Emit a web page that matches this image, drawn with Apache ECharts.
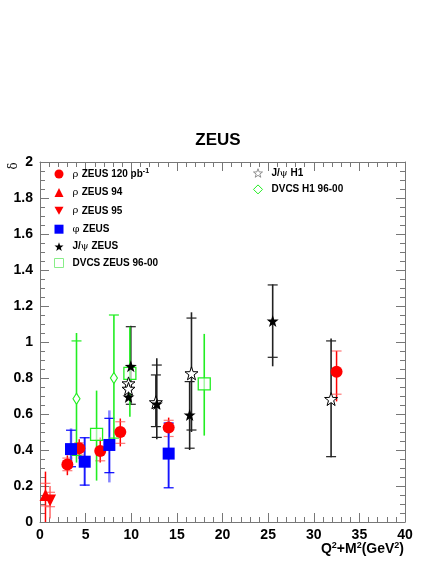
<!DOCTYPE html>
<html><head><meta charset="utf-8">
<script src="https://cdn.jsdelivr.net/npm/echarts@6/dist/echarts.min.js"></script>
<style>html,body{margin:0;padding:0;background:#fff}#c{width:436px;height:564px}</style>
</head><body><div id="c"></div>
<script>
// ---- data (x = Q^2+M^2 [GeV^2], y = delta) ----
const rho120 = [[3.0,0.32],[4.3,0.41],[6.6,0.395],[8.8,0.50],[14.1,0.525],[32.5,0.835]];
const rho120Err = [[0.26,0.37,0.285,0.355],[0.35,0.46,0.372,0.44],[0.33,0.47,0.34,0.455],[0.42,0.575,0.437,0.557],[0.465,0.58,0.475,0.565],[0.67,0.95,0.71,0.95]];
const rho94 = [[0.6,0.15]];
const rho94Err = [[-0.05,0.28,0.09,0.215]];
const rho95 = [[1.1,0.12]];
const rho95Err = [[0.02,0.2,0.085,0.165]];
const phiZ = [[3.4,0.405],[4.9,0.335],[7.6,0.428],[14.1,0.38]];
const phiZErr = [[0.30,0.52,0.307,0.51],[0.2,0.47,0.205,0.468],[0.22,0.62,0.274,0.576],[0.19,0.56,0.19,0.55]];
const jpsiZ = [[9.95,0.865],[9.7,0.695],[12.8,0.656],[16.4,0.595],[25.5,1.117]];
const jpsiZErr = [[0.654,1.09,0.654,1.085],null,[0.46,0.91,0.47,0.872],[0.40,0.78,0.41,0.78],[0.865,1.32,0.915,1.317]];
const jpsiH1 = [[9.7,0.77],[9.7,0.74],[12.7,0.665],[16.6,0.826],[31.9,0.683]];
const jpsiH1Err = [null,null,[0.53,0.817,0.53,0.817],[0.50,1.165,0.511,1.133],[0.36,1.02,0.363,1.006]];
const dvcsZ = [[6.2,0.487],[9.85,0.826],[18.0,0.767]];
const dvcsZErr = [[0.23,0.73,null,null],[0.585,1.085,null,null],[0.48,1.045,null,null]];
const dvcsH1 = [[4.0,0.685],[8.1,0.80]];
const dvcsH1Err = [[0.33,1.05,0.37,1.006],[0.46,1.15,0.466,1.15]];

const legendLeft = ['rho120','rho94','rho95','phi','jpsiZ','dvcsZ'];
const legendRight = ['jpsiH1','dvcsH1'];
const legendText = {
  rho120: '{g|\u03c1} {b|ZEUS 120 pb}{s|-1}',
  rho94: '{g|\u03c1} {b|ZEUS 94}',
  rho95: '{g|\u03c1} {b|ZEUS 95}',
  phi: '{g|\u03c6} {b|ZEUS}',
  jpsiZ: '{b|J/}{g|\u03c8}{b| ZEUS}',
  dvcsZ: '{b|DVCS ZEUS 96-00}',
  jpsiH1: '{b|J/}{g|\u03c8}{b| H1}',
  dvcsH1: '{b|DVCS H1 96-00}'
};

const STAR = 'path://M0,-1 L0.235,-0.324 L0.951,-0.309 L0.380,0.124 L0.588,0.809 L0,0.4 L-0.588,0.809 L-0.380,0.124 L-0.951,-0.309 L-0.235,-0.324 Z';
const TRIDOWN = 'path://M0,0 L10,0 L5,9 Z';
const RED = '#ff0000', BLUE = '#0000ff', GREEN = '#22ee22', BLACK = '#000000';
const FONT = 'Liberation Sans, Arial, Helvetica, sans-serif';

function errSeries(name, pts, errs, st) {
  const data = pts.map((p, i) => {
    const e = errs[i];
    if (!e) return [p[0], NaN, NaN, NaN, NaN];
    return [p[0], e[0], e[1], e[2] == null ? NaN : e[2], e[3] == null ? NaN : e[3]];
  });
  return {
    type: 'custom', name: name, data: data, z: 2, silent: true,
    encode: {x: 0, y: [1, 2]},
    renderItem: function (params, api) {
      const x = api.value(0), lo = api.value(1), hi = api.value(2);
      const clo = api.value(3), chi = api.value(4);
      if (isNaN(lo)) return null;
      const cs = params.coordSys;
      const bottom = cs.y + cs.height;
      const cl = v => Math.max(cs.y, Math.min(bottom, v));
      const a = api.coord([x, lo]), b = api.coord([x, hi]);
      const px = a[0];
      const ch = [{type: 'line', shape: {x1: px, y1: cl(a[1]), x2: px, y2: cl(b[1])},
        style: {stroke: st.line, lineWidth: st.lw, opacity: st.lop}}];
      if (st.inner) {
        const ia = api.coord([x, isNaN(clo) ? lo : clo]), ib = api.coord([x, isNaN(chi) ? hi : chi]);
        ch.push({type: 'line', shape: {x1: px, y1: cl(ia[1]), x2: px, y2: cl(ib[1])},
          style: {stroke: st.inner, lineWidth: 1, opacity: 1}});
      }
      [clo, chi].forEach(v => {
        if (!isNaN(v)) {
          const p = api.coord([x, v]);
          if (p[1] <= bottom && p[1] >= cs.y)
            ch.push({type: 'line', shape: {x1: px - st.cw, y1: p[1], x2: px + st.cw, y2: p[1]},
              style: {stroke: st.cap, lineWidth: 1.2, opacity: st.cop}});
        }
      });
      return {type: 'group', children: ch};
    }
  };
}

const chart = echarts.init(document.getElementById('c'), null, {renderer: 'canvas'});

const axisCommon = {
  min: 0,
  axisLine: {show: true, onZero: false, lineStyle: {color: '#777', width: 1}},
  axisTick: {show: true, inside: true, length: 9, lineStyle: {color: '#777'}},
  minorTick: {show: true, length: 5, lineStyle: {color: '#777'}},
  splitLine: {show: false}
};
const labelStyle = {color: '#000', fontFamily: FONT, fontWeight: 'bold', fontSize: 14};

const richLegend = {
  g: {fontFamily: 'DejaVu Serif, Liberation Serif, serif', fontWeight: 'normal', fontSize: 10, lineHeight: 12, color: '#000'},
  b: {fontFamily: FONT, fontWeight: 'bold', fontSize: 10, lineHeight: 12, color: '#000'},
  s: {fontFamily: FONT, fontWeight: 'bold', fontSize: 7, lineHeight: 7, verticalAlign: 'top', color: '#000'}
};

function legendCfg(names, left, size, styles) {
  return {
    data: names.map(n => Object.assign({name: n}, styles[n] ? {itemStyle: styles[n]} : {})),
    orient: 'vertical', left: left, top: 168, padding: 0,
    itemWidth: size, itemHeight: size, itemGap: 6.4,
    selectedMode: false,
    formatter: n => legendText[n],
    textStyle: {padding: [0, 0, 0, 4], rich: richLegend}
  };
}

chart.setOption({
  backgroundColor: '#fff',
  animation: false,
  title: {text: 'ZEUS', left: 'center', top: 127,
    textStyle: {fontFamily: FONT, fontWeight: 'bold', fontSize: 17, color: '#000'}},
  grid: {left: 40, top: 162, width: 365, height: 360, containLabel: false},
  legend: [
    legendCfg(legendLeft, 54, 9, {dvcsZ: {borderColor: '#88ee88', borderWidth: 1}}),
    legendCfg(legendRight, 253, 9, {jpsiH1: {borderColor: '#777', borderWidth: 0.8}, dvcsH1: {borderWidth: 1}})
  ],
  xAxis: [
    Object.assign({}, axisCommon, {type: 'value', position: 'bottom', max: 40, interval: 5,
      minorTick: Object.assign({}, axisCommon.minorTick, {splitNumber: 5}),
      axisLabel: Object.assign({margin: 6}, labelStyle)}),
    Object.assign({}, axisCommon, {type: 'value', position: 'top', max: 40, interval: 5,
      minorTick: Object.assign({}, axisCommon.minorTick, {splitNumber: 5}),
      axisLabel: {show: false}})
  ],
  yAxis: [
    Object.assign({}, axisCommon, {type: 'value', position: 'left', max: 2, interval: 0.2,
      minorTick: Object.assign({}, axisCommon.minorTick, {splitNumber: 4}),
      axisLabel: Object.assign({margin: 7}, labelStyle)}),
    Object.assign({}, axisCommon, {type: 'value', position: 'right', max: 2, interval: 0.2,
      minorTick: Object.assign({}, axisCommon.minorTick, {splitNumber: 4}),
      axisLabel: {show: false}})
  ],
  graphic: [
    {type: 'text', x: 404, y: 549, style: {
      text: '{b|Q}{s|2}{b|+M}{s|2}{b|(GeV}{s|2}{b|)}', align: 'right', verticalAlign: 'middle',
      rich: {
        b: {fontFamily: FONT, fontWeight: 'bold', fontSize: 14, lineHeight: 16, fill: '#000'},
        s: {fontFamily: FONT, fontWeight: 'bold', fontSize: 9, lineHeight: 9, verticalAlign: 'top', fill: '#000'}
      }}},
    {type: 'text', x: 14, y: 166, rotation: Math.PI / 2, style: {
      text: '\u03b4', align: 'center', verticalAlign: 'middle',
      fontFamily: 'DejaVu Serif, serif', fontSize: 12, fill: '#000'}}
  ],
  series: [
    errSeries('e_rho120', rho120, rho120Err, {line: RED, lw: 1.5, lop: 1, cap: '#ff5555', cop: 0.8, cw: 5}),
    errSeries('e_rho94', rho94, rho94Err, {line: RED, lw: 1.5, lop: 1, cap: '#ff5555', cop: 0.8, cw: 5}),
    errSeries('e_rho95', rho95, rho95Err, {line: '#ff6666', lw: 1.5, lop: 1, cap: '#ff5555', cop: 0.8, cw: 5}),
    errSeries('e_phi', phiZ, phiZErr, {line: '#7777ff', lw: 2.5, lop: 0.9, inner: BLUE, cap: BLUE, cop: 1, cw: 5}),
    errSeries('e_jpsiZ', jpsiZ, jpsiZErr, {line: '#222', lw: 1.6, lop: 1, cap: '#222', cop: 1, cw: 5}),
    errSeries('e_jpsiH1', jpsiH1, jpsiH1Err, {line: '#222', lw: 1.6, lop: 1, cap: '#222', cop: 1, cw: 5}),
    errSeries('e_dvcsZ', dvcsZ, dvcsZErr, {line: GREEN, lw: 1.6, lop: 1, cap: GREEN, cop: 1, cw: 5}),
    errSeries('e_dvcsH1', dvcsH1, dvcsH1Err, {line: GREEN, lw: 1.6, lop: 1, cap: GREEN, cop: 1, cw: 5}),
    {type: 'scatter', name: 'rho120', data: rho120, symbol: 'circle', symbolSize: 12, z: 5,
      itemStyle: {color: RED, opacity: 1}},
    {type: 'scatter', name: 'rho94', data: rho94, symbol: 'triangle', symbolSize: 12, z: 5,
      itemStyle: {color: RED, opacity: 1}},
    {type: 'scatter', name: 'rho95', data: rho95, symbol: TRIDOWN, symbolSize: 12, z: 5,
      itemStyle: {color: RED, opacity: 1}},
    {type: 'scatter', name: 'phi', data: phiZ, symbol: 'rect', symbolSize: 12, z: 5,
      itemStyle: {color: BLUE, opacity: 1}},
    {type: 'scatter', name: 'dvcsZ', data: dvcsZ, symbol: 'rect', symbolSize: 12, z: 5,
      itemStyle: {color: 'rgba(255,255,255,0.6)', borderColor: GREEN, borderWidth: 1.3, opacity: 1}},
    {type: 'scatter', name: 'dvcsH1', data: dvcsH1, symbol: 'diamond', symbolSize: [7, 11], z: 5,
      itemStyle: {color: '#fff', borderColor: GREEN, borderWidth: 1.2, opacity: 1}},
    {type: 'scatter', name: 'jpsiH1', data: jpsiH1, symbol: STAR, symbolSize: 13, z: 6,
      itemStyle: {color: '#fff', borderColor: '#000', borderWidth: 1, opacity: 1}},
    {type: 'scatter', name: 'jpsiZ', data: jpsiZ, symbol: STAR, symbolSize: 12, z: 7,
      itemStyle: {color: BLACK, opacity: 1}}
  ]
});
</script></body></html>
